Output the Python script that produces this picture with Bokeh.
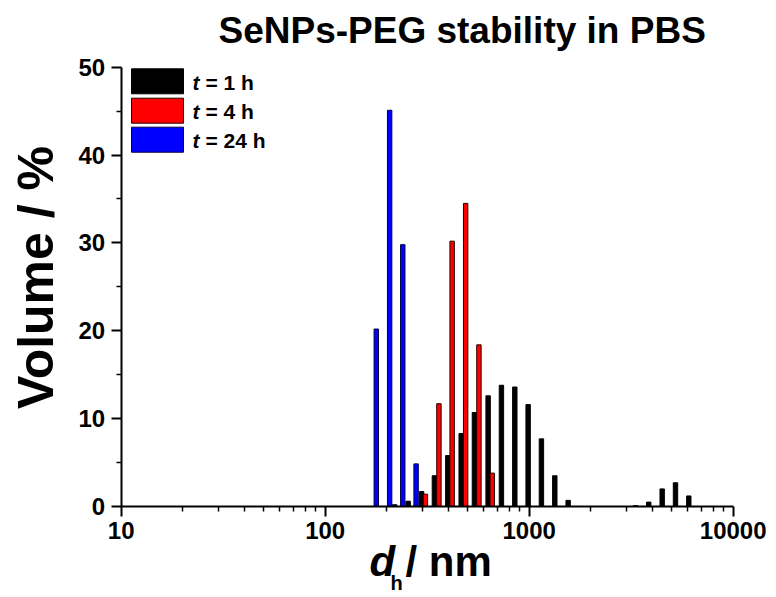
import numpy as np
from bokeh.plotting import figure
from bokeh.models import (Range1d, FixedTicker, Label, BoxAnnotation, Title,
                          ColumnDataSource, PrintfTickFormatter)
from bokeh.embed import file_html
from bokeh.resources import INLINE

# ---------------- data ----------------
t1_size = [219, 255, 297, 343, 399, 464, 539, 629, 731, 850, 988, 1148, 1335, 1552,
           3318, 3855, 4486, 5214, 6057]
t1_volume = [0.2, 0.6, 1.7, 3.5, 5.8, 8.3, 10.7, 12.6, 13.8, 13.6, 11.6, 7.7, 3.5, 0.7,
             0.1, 0.5, 2.0, 2.7, 1.2]
t4_size = [310, 361, 419, 488, 567, 659]
t4_volume = [1.4, 11.7, 30.2, 34.5, 18.4, 3.8]
t24_size = [178, 207, 240, 279]
t24_volume = [20.2, 45.1, 29.8, 4.85]
series_times = ["1 h", "4 h", "24 h"]
x_ticks = [10, 100, 1000, 10000]
x_tick_labels = ["10", "100", "1000", "10000"]
y_ticks = [0, 10, 20, 30, 40, 50]
y_minor_ticks = [5, 15, 25, 35, 45]

# ---------------- layout / style ----------------
FONT = "Liberation Sans"
W, H = 776, 597
TOP = 50                      # title band height (px)
AX_LEFT_PX, AX_RIGHT_PX = 120.7, 732.7   # pixel columns of d = 10 and d = 10000
AX_BOTTOM_PX, AX_TOP_PX = 506.0, 66.7    # pixel rows of volume = 0 and 50
X0, X1, Y0, Y1 = 10, 10000, 0, 50
PX_PER_DECADE = (AX_RIGHT_PX - AX_LEFT_PX) / np.log10(X1 / X0)
PX_PER_UNIT = (AX_BOTTOM_PX - AX_TOP_PX) / (Y1 - Y0)
BASE_SHIFT = 0.37             # label anchor -> alphabetic baseline, in em


def px_to_x(px):
    return X0 * 10 ** ((px - AX_LEFT_PX) / PX_PER_DECADE)


def py_to_y(py):
    return Y0 + (AX_BOTTOM_PX - py) / PX_PER_UNIT


# the frame covers the whole canvas below the title; axes sit at fixed locations
p = figure(width=W, height=H, x_axis_type="log",
           x_range=Range1d(px_to_x(0), px_to_x(W)),
           y_range=Range1d(py_to_y(H), py_to_y(TOP)),
           min_border_left=0, min_border_right=0,
           min_border_top=TOP, min_border_bottom=0,
           output_backend="svg", toolbar_location=None)
p.title = Title(text="SeNPs-PEG stability in PBS", text_font=FONT,
                text_font_size="37px", text_font_style="bold", text_color="black",
                align="left", offset=218, standoff=0)
p.grid.visible = False
p.outline_line_color = None
p.background_fill_color = "white"
p.border_fill_color = "white"

# bars: constant pixel width on the log axis
HALF_PX = 2.2
f = 10 ** (HALF_PX / PX_PER_DECADE)


def bars(size, vol, fill, line):
    s = np.array(size, dtype=float)
    src = ColumnDataSource(dict(left=s / f, right=s * f, top=vol,
                                bottom=np.zeros(len(s))))
    p.quad(left="left", right="right", top="top", bottom="bottom", source=src,
           fill_color=fill, line_color=line, line_width=1)


bars(t1_size, t1_volume, "black", "black")
bars(t4_size, t4_volume, "#ff0000", "#200000")
bars(t24_size, t24_volume, "#0000ff", "#000040")

# axes
xa = p.xaxis[0]
xa.fixed_location = Y0
xa.bounds = (X0, X1)
xa.ticker = FixedTicker(ticks=x_ticks,
                        minor_ticks=[m * t for t in x_ticks[:-1] for m in range(2, 10)])
xa.formatter = PrintfTickFormatter(format="%d")
xa.major_label_overrides = {t: l for t, l in zip(x_ticks, x_tick_labels)}
xa.major_label_standoff = 5
ya = p.yaxis[0]
ya.fixed_location = X0
ya.bounds = (Y0, Y1)
ya.ticker = FixedTicker(ticks=y_ticks, minor_ticks=y_minor_ticks)
ya.major_label_standoff = 6

for ax in (xa, ya):
    ax.axis_line_width = 2
    ax.axis_line_color = "black"
    ax.major_tick_in = 0
    ax.major_tick_out = 10
    ax.minor_tick_in = 0
    ax.minor_tick_out = 5
    ax.major_tick_line_width = 2
    ax.minor_tick_line_width = 1.5
    ax.major_label_text_font = FONT
    ax.major_label_text_font_size = "24px"
    ax.major_label_text_font_style = "bold"
    ax.major_label_text_color = "black"


def text(px, base_py, txt, size, style="bold", **kw):
    """Horizontal text whose left edge is at px and baseline at base_py (pixels)."""
    p.add_layout(Label(x=px_to_x(px), y=py_to_y(base_py - BASE_SHIFT * size),
                       text=txt, text_font=FONT, text_font_size=f"{size}px",
                       text_font_style=style, text_color="black",
                       text_baseline="alphabetic", **kw))


# y axis title (rotated; baseline column at x = 55 px, centred at y = 277 px)
YL_SIZE = 50
p.add_layout(Label(x=px_to_x(55 - 0.4 * YL_SIZE), y=py_to_y(277), text="Volume / %",
                   text_font=FONT, text_font_size=f"{YL_SIZE}px",
                   text_font_style="bold", text_color="black",
                   angle=np.pi / 2, text_align="center", text_baseline="alphabetic"))

# x axis title  d_h / nm  (italic d, subscript h)
text(369, 577, "d", 42, "bold italic")
text(390, 590, "h", 20)
text(405, 577, "/ nm", 42)

# legend (manual, to allow the italic t)
colors = [("black", "black"), ("#ff0000", "#200000"), ("#0000ff", "#000040")]
row_top = [68.3, 97.7, 126.7]
for (fill, line), top, tlabel in zip(colors, row_top, series_times):
    p.add_layout(BoxAnnotation(left=px_to_x(131), right=px_to_x(183),
                               top=py_to_y(top), bottom=py_to_y(top + 25),
                               fill_color=fill, fill_alpha=1, line_color=line,
                               line_alpha=1, line_width=1))
    text(192, top + 21, "t", 21, "bold italic")
    text(205, top + 21, "= " + tlabel, 21)

open("out.html", "w").write(file_html(p, INLINE))
